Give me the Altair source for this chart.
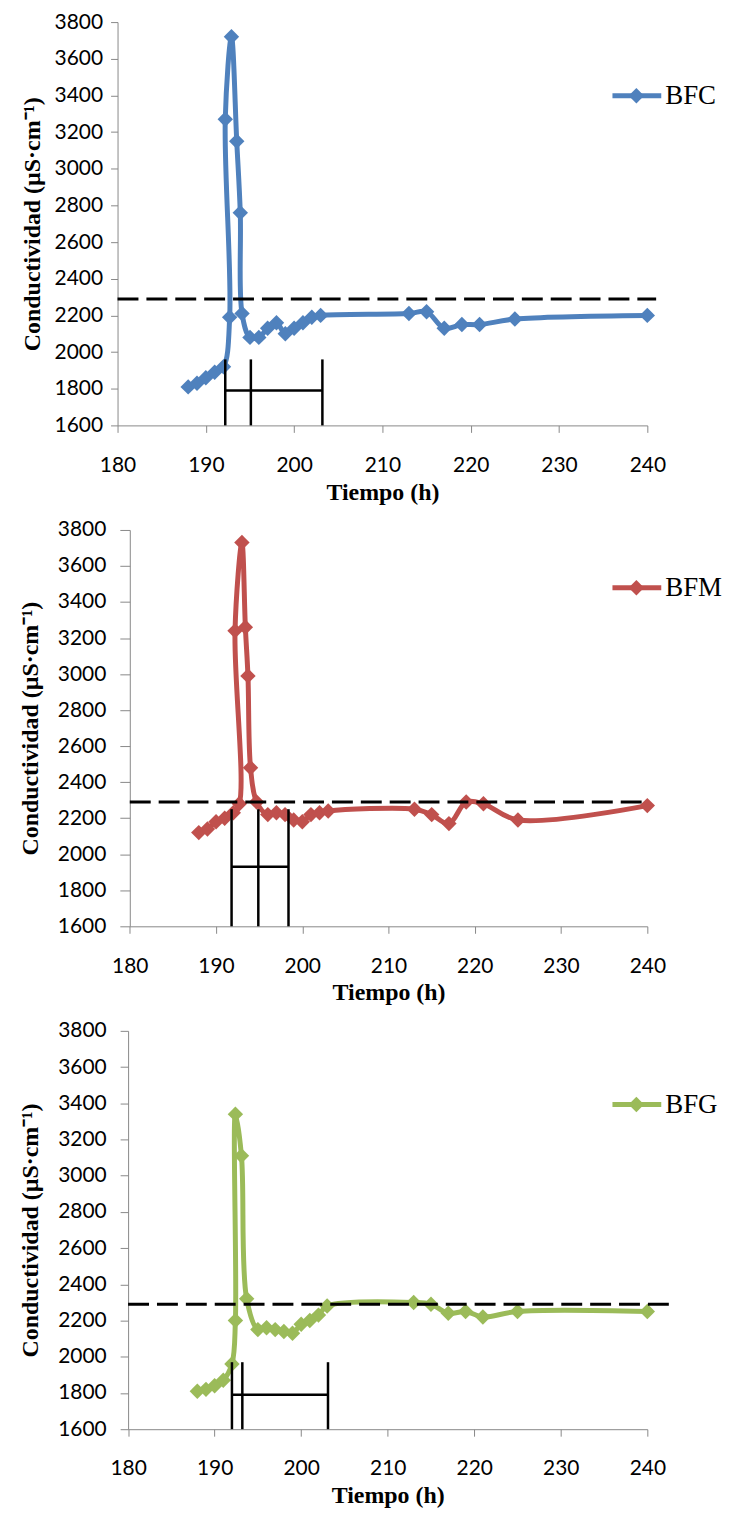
import altair as alt
import pandas as pd

# ---------------- data ----------------
x_ticks = [180, 190, 200, 210, 220, 230, 240]
y_ticks = [1600, 1800, 2000, 2200, 2400, 2600, 2800, 3000, 3200, 3400, 3600, 3800]
reference_level = 2290

bfc_t = [188, 189, 190, 191, 192, 192.7, 192.2, 192.9, 193.5, 193.9, 194.1, 195, 196, 197, 198,
         199, 200, 201, 202, 203, 213, 215, 217, 219, 221, 225, 240]
bfc_v = [1810, 1830, 1860, 1890, 1920, 2190, 3270, 3720, 3150, 2760, 2210, 2080, 2080, 2130, 2160,
         2100, 2130, 2160, 2190, 2200, 2210, 2220, 2130, 2150, 2150, 2180, 2200]

bfm_t = [188, 189, 190, 191, 192, 192.7, 192.2, 193.0, 193.4, 193.7, 194.0, 194.7, 196, 197, 198,
         199, 200, 201, 202, 203, 213, 215, 217, 219, 221, 225, 240]
bfm_v = [2120, 2140, 2180, 2200, 2230, 2280, 3240, 3730, 3260, 2990, 2480, 2290, 2220, 2230, 2220,
         2190, 2180, 2220, 2230, 2240, 2250, 2220, 2170, 2290, 2280, 2190, 2270]

bfg_t = [188, 189, 190, 191, 192, 192.4, 192.4, 193.1, 193.7, 195, 196, 197, 198, 199, 200,
         201, 202, 203, 213, 215, 217, 219, 221, 225, 240]
bfg_v = [1810, 1820, 1840, 1870, 1960, 2200, 3340, 3110, 2320, 2150, 2160, 2150, 2140, 2130, 2180,
         2200, 2230, 2280, 2300, 2290, 2240, 2250, 2220, 2250, 2250]

# interval markers (vertical lines and horizontal bar)
bfc_marks = [192.2, 195.1, 203.2]; bfc_mark_top = 1960; bfc_bar = 1790
bfm_marks = [191.8, 194.9, 198.4]; bfm_mark_top = 2250; bfm_bar = 1930
bfg_marks = [192.0, 193.2, 203.1]; bfg_mark_top = 1970; bfg_bar = 1790

W = 532
SERIF = "Liberation Serif"
SANS = "Lato"


def panel(name, t, v, color, marks, mark_top, bar_y, dash_end, x0, h,
          leg_y, ytick, ypad, ytitlepad):
    xs = alt.Scale(domain=[180, 240], range=[x0, W], nice=False, zero=False)
    ys = alt.Scale(domain=[1600, 3800], nice=False, zero=False)
    df = pd.DataFrame({"t": t, "v": v, "i": list(range(len(t)))})

    xaxis = alt.Axis(values=x_ticks, format="d", title="Tiempo (h)", grid=False, tickSize=7,
                     labelPadding=22, titlePadding=5, labelFont=SANS, labelFontSize=21,
                     labelColor="black", titleFont=SERIF, titleFontSize=24,
                     titleFontWeight="bold", titleColor="black", domainColor="#888888",
                     tickColor="#888888", labelFlush=False)
    yaxis = alt.Axis(values=y_ticks, format="d", title="Conductividad (µS·cm⁻¹)", grid=False,
                     tickSize=ytick, labelPadding=ypad, titlePadding=ytitlepad,
                     offset=-x0, labelFont=SANS, labelFontSize=21, labelColor="black",
                     titleFont=SERIF, titleFontSize=24, titleFontWeight="bold",
                     titleColor="black", domainColor="#888888", tickColor="#888888",
                     labelFlush=False)

    X = lambda f: alt.X(f, scale=xs, axis=xaxis)
    Y = lambda f: alt.Y(f, scale=ys, axis=yaxis)

    line = alt.Chart(df).mark_line(color=color, strokeWidth=5,
                                   interpolate="catmull-rom").encode(
        x=X("t:Q"), y=Y("v:Q"), order="i:Q")
    pts = alt.Chart(df).mark_point(shape="diamond", filled=True, size=240,
                                   color=color, opacity=1).encode(x=X("t:Q"), y=Y("v:Q"))

    dash_df = pd.DataFrame({"t": [180], "t2": [dash_end], "v": [reference_level]})
    dash = alt.Chart(dash_df).mark_rule(color="black", strokeWidth=3,
                                        strokeDash=[21, 8]).encode(
        x=X("t:Q"), x2="t2:Q", y=Y("v:Q"))

    vdf = pd.DataFrame({"t": marks, "v": [1600] * len(marks), "v2": [mark_top] * len(marks)})
    vr = alt.Chart(vdf).mark_rule(color="black", strokeWidth=2.5).encode(
        x=X("t:Q"), y=Y("v:Q"), y2="v2:Q")
    hdf = pd.DataFrame({"t": [marks[0]], "t2": [marks[-1]], "v": [bar_y]})
    hr = alt.Chart(hdf).mark_rule(color="black", strokeWidth=2.5).encode(
        x=X("t:Q"), x2="t2:Q", y=Y("v:Q"))

    ldf = pd.DataFrame({"name": [name]})
    leg_line = alt.Chart(ldf).mark_rule(color=color, strokeWidth=5).encode(
        x=alt.value(497), x2=alt.value(546), y=alt.value(leg_y))
    leg_pt = alt.Chart(ldf).mark_point(shape="diamond", filled=True, size=240,
                                       color=color, opacity=1).encode(
        x=alt.value(521), y=alt.value(leg_y))
    leg_txt = alt.Chart(ldf).mark_text(align="left", baseline="middle", font=SERIF,
                                       fontSize=27, color="black").encode(
        x=alt.value(550), y=alt.value(leg_y), text="name:N")

    return alt.layer(line, pts, dash, vr, hr, leg_line, leg_pt, leg_txt).properties(
        width=W, height=h)


p1 = panel("BFC", bfc_t, bfc_v, "#4F81BD", bfc_marks, bfc_mark_top, bfc_bar, 241,
           0, 405, 74, 7, 8, 10)
p2 = panel("BFM", bfm_t, bfm_v, "#C0504D", bfm_marks, bfm_mark_top, bfm_bar, 240,
           12.3, 398, 58, 10, 14, 15)
p3 = panel("BFG", bfg_t, bfg_v, "#9BBB59", bfg_marks, bfg_mark_top, bfg_bar, 243,
           10.6, 400, 74, 8, 14, 15)

chart = alt.vconcat(p1, p2, p3, spacing=105, bounds="flush").properties(
    padding={"left": 10, "top": 0, "right": 0, "bottom": 0},
    background="white",
).configure_view(stroke=None)

chart.save("out.html", embed_options={"renderer": "svg", "actions": False})
